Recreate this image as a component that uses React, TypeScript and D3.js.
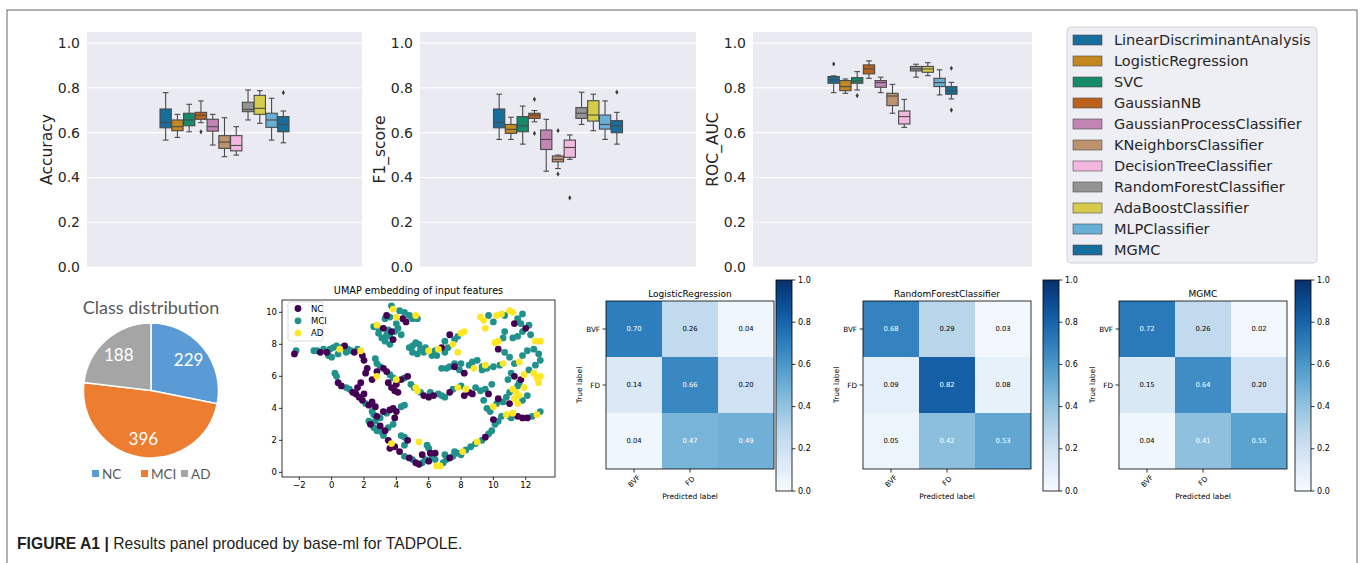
import React from 'react'
import * as d3 from 'd3'

// ---------- data ----------
const MODELS = [
  'LinearDiscriminantAnalysis',
  'LogisticRegression',
  'SVC',
  'GaussianNB',
  'GaussianProcessClassifier',
  'KNeighborsClassifier',
  'DecisionTreeClassifier',
  'RandomForestClassifier',
  'AdaBoostClassifier',
  'MLPClassifier',
  'MGMC',
]
const BASE_COLORS = ['#0173b2', '#de8f05', '#029e73', '#d55e00', '#cc78bc', '#ca9161', '#fbafe4', '#949494', '#ece133', '#56b4e9', '#0173b2']

// [whisker low, q1, median, q3, whisker high]
const ACC_STATS = [
  [0.567, 0.622, 0.646, 0.706, 0.779],
  [0.579, 0.609, 0.627, 0.657, 0.682],
  [0.604, 0.631, 0.657, 0.687, 0.727],
  [0.645, 0.66, 0.678, 0.691, 0.742],
  [0.545, 0.607, 0.627, 0.66, 0.682],
  [0.493, 0.53, 0.558, 0.587, 0.667],
  [0.5, 0.519, 0.543, 0.587, 0.627],
  [0.657, 0.694, 0.704, 0.736, 0.791],
  [0.642, 0.682, 0.709, 0.767, 0.788],
  [0.567, 0.624, 0.657, 0.687, 0.754],
  [0.555, 0.604, 0.637, 0.672, 0.697],
]
const ACC_OUTLIERS = [[3, 0.604], [10, 0.779]]

const F1_STATS = [
  [0.57, 0.622, 0.646, 0.706, 0.772],
  [0.57, 0.597, 0.615, 0.637, 0.669],
  [0.549, 0.604, 0.631, 0.672, 0.719],
  [0.649, 0.664, 0.679, 0.687, 0.699],
  [0.428, 0.525, 0.57, 0.612, 0.66],
  [0.44, 0.47, 0.481, 0.496, 0.5],
  [0.481, 0.49, 0.534, 0.567, 0.59],
  [0.637, 0.664, 0.687, 0.712, 0.781],
  [0.609, 0.652, 0.679, 0.743, 0.772],
  [0.57, 0.616, 0.637, 0.679, 0.742],
  [0.549, 0.6, 0.63, 0.654, 0.691],
]
const F1_OUTLIERS = [[3, 0.749], [3, 0.597], [5, 0.609], [5, 0.415], [6, 0.309], [10, 0.781]]

const ROC_STATS = [
  [0.779, 0.821, 0.836, 0.851, 0.854],
  [0.776, 0.788, 0.806, 0.833, 0.84],
  [0.791, 0.821, 0.831, 0.846, 0.873],
  [0.843, 0.863, 0.885, 0.903, 0.921],
  [0.779, 0.803, 0.824, 0.833, 0.848],
  [0.687, 0.721, 0.764, 0.776, 0.816],
  [0.624, 0.639, 0.672, 0.697, 0.749],
  [0.848, 0.876, 0.885, 0.896, 0.906],
  [0.855, 0.87, 0.885, 0.896, 0.913],
  [0.769, 0.806, 0.824, 0.843, 0.881],
  [0.751, 0.772, 0.788, 0.806, 0.825],
]
const ROC_OUTLIERS = [[0, 0.907], [2, 0.766], [10, 0.888], [10, 0.701]]

const METRIC_TICKS = [0, 0.2, 0.4, 0.6, 0.8, 1.0]

const CLASS_NAMES = ['NC', 'MCI', 'AD']
const CLASS_COUNTS = [229, 396, 188]
const PIE_COLORS = ['#5b9bd5', '#ed7d31', '#a5a5a5']

const UMAP_NC = [
  [3.4, 9.8], [4.4, 9.6], [4.6, 9.4], [3.2, 9.0], [3.7, 8.8], [3.8, 8.3],
  [-2.3, 7.4], [-0.7, 7.5], [-0.3, 7.5], [0.8, 7.9], [1.4, 7.5],
  [1.9, 7.3], [2.0, 7.0], [2.2, 6.5], [2.1, 6.2], [0.4, 5.6], [0.6, 5.4], [1.3, 5.0], [1.5, 4.9], [1.7, 4.7],
  [1.9, 4.5], [2.3, 4.2], [2.0, 4.9], [1.6, 5.3], [1.8, 5.6],
  [3.2, 6.5], [3.4, 6.3], [3.5, 5.6], [3.7, 5.3], [3.9, 5.1], [4.1, 5.0], [4.0, 5.5], [4.3, 5.8], [4.7, 6.0],
  [2.8, 6.3], [2.5, 5.8],
  [2.5, 4.4], [2.7, 4.1], [2.8, 3.5], [3.2, 3.8], [3.6, 3.9], [3.8, 4.0], [4.0, 3.8], [2.4, 3.0], [3.3, 2.6],
  [3.9, 3.4], [3.0, 2.9], [3.5, 2.0], [3.9, 1.6], [3.6, 1.5], [4.7, 2.0], [4.2, 1.3], [4.8, 0.9], [5.2, 0.6],
  [5.4, 0.5], [6.0, 0.7], [6.4, 1.2], [7.3, 0.9], [9.5, 2.2], [10.0, 3.3], [6.1, 1.2], [5.6, 1.1],
  [11.5, 3.5], [11.8, 3.4], [12.1, 3.4],
  [9.7, 4.9], [10.3, 4.6], [11.7, 5.8], [12.0, 9.0], [10.3, 7.7], [11.3, 6.0], [11.0, 4.3], [11.3, 9.3],
  [5.7, 4.8], [6.0, 4.7], [6.3, 4.8], [7.3, 5.0], [8.5, 5.0], [8.7, 4.9], [8.2, 4.8],
  [7.6, 6.6], [8.2, 6.2], [6.8, 7.8], [7.3, 8.6],
]
const UMAP_MCI = [
  [3.7, 10.4], [4.2, 10.1], [4.5, 10.0], [3.3, 9.6], [3.6, 9.7], [4.8, 9.8], [5.0, 9.6], [5.3, 9.6], [4.0, 9.3],
  [2.6, 9.1], [2.9, 9.0], [3.5, 8.9], [3.9, 8.8], [3.4, 8.6], [3.6, 8.5], [3.3, 8.2], [2.9, 8.7], [4.1, 9.0],
  [4.3, 8.6], [3.1, 8.4], [3.6, 8.0],
  [-2.2, 7.6], [-1.1, 7.6], [-0.9, 7.6], [-0.5, 7.7], [-0.1, 7.7], [0.1, 7.8], [0.3, 7.9], [0.6, 7.8],
  [1.0, 7.7], [1.2, 7.6], [1.6, 7.7], [0.0, 7.2], [-0.2, 7.3], [0.4, 7.4], [0.9, 7.5],
  [0.2, 6.2], [0.3, 6.0], [0.9, 5.3], [1.1, 5.2], [2.1, 4.3],
  [2.7, 7.1], [2.8, 6.8], [3.0, 6.6], [3.6, 6.1], [3.8, 5.9], [4.5, 5.9], [4.9, 5.5], [5.1, 5.3],
  [2.5, 3.8], [2.6, 3.6], [3.0, 3.4], [3.4, 3.7], [4.3, 4.1], [4.5, 4.2], [2.3, 3.2], [2.6, 2.8], [2.8, 2.6],
  [3.1, 2.5], [3.5, 2.8], [3.8, 3.0], [2.7, 3.2], [3.2, 2.3], [4.3, 2.3], [4.5, 2.2], [4.5, 1.7], [4.5, 1.0],
  [5.0, 0.8], [5.6, 0.6], [5.8, 0.8], [6.2, 0.9], [6.0, 1.5], [5.9, 1.7], [6.9, 0.6], [7.1, 0.8], [7.5, 1.0],
  [7.8, 1.2], [8.3, 1.4], [8.6, 1.6], [8.9, 1.8], [9.3, 2.0], [9.7, 2.4], [9.9, 2.6], [10.1, 3.0], [10.3, 3.2],
  [6.4, 0.8], [7.0, 1.1], [8.0, 1.1], [7.6, 1.3],
  [10.5, 3.5], [11.0, 3.5], [12.4, 3.5], [12.9, 3.8], [11.1, 3.4],
  [9.4, 4.5], [9.6, 4.0], [9.8, 3.8], [9.5, 5.2], [10.6, 4.4], [10.8, 4.7], [11.0, 5.0], [11.8, 4.5], [11.5, 5.4],
  [12.2, 6.4], [12.6, 6.7], [12.9, 7.0], [12.8, 7.4], [12.5, 7.7], [12.3, 8.6], [11.7, 9.3], [11.5, 9.6],
  [10.7, 9.8], [9.7, 9.8], [10.0, 9.4], [10.7, 8.8], [10.6, 8.4], [10.7, 7.5], [11.0, 7.2], [11.3, 6.8],
  [11.8, 7.3], [12.1, 7.6], [11.2, 8.4], [11.5, 8.5], [11.8, 8.8], [10.4, 6.7], [10.0, 6.6], [9.6, 6.5],
  [9.3, 6.4], [11.1, 6.2], [11.6, 5.6], [10.9, 5.8], [12.1, 4.8], [10.2, 4.3], [9.9, 5.5], [11.8, 9.9], [12.2, 9.2],
  [5.5, 5.0], [6.6, 4.9], [6.8, 4.8], [7.0, 4.7], [6.1, 5.0], [7.5, 5.2], [8.0, 5.4], [8.9, 5.3], [9.2, 5.1],
  [6.8, 6.5], [7.1, 6.5], [7.3, 6.6], [7.9, 6.4], [8.0, 6.8], [8.5, 6.7], [8.7, 6.9], [9.0, 7.0], [9.3, 6.6], [7.6, 6.8],
  [4.8, 7.8], [5.0, 7.9], [5.2, 8.1], [5.4, 8.0], [5.5, 7.7], [5.7, 7.5], [5.0, 7.5], [5.3, 7.4], [5.8, 7.8],
  [6.2, 7.3], [6.4, 7.6], [7.0, 7.5], [7.2, 7.8], [7.6, 8.3], [7.8, 8.5], [7.0, 8.2], [6.5, 7.3],
]
const UMAP_AD = [
  [3.8, 10.2], [4.0, 9.7], [5.2, 9.8], [2.8, 9.2],
  [0.5, 7.7], [1.8, 7.6],
  [2.8, 6.0], [4.0, 5.8], [5.3, 5.1],
  [3.7, 1.8], [5.4, 1.9], [6.5, 0.4], [6.7, 0.4], [8.1, 1.3], [9.0, 1.9],
  [10.8, 3.6], [11.2, 3.7], [12.7, 3.6],
  [10.0, 4.1], [11.2, 5.2], [11.4, 5.0], [11.6, 4.8], [11.3, 4.6], [11.9, 5.3], [11.9, 6.1], [12.5, 6.2],
  [12.7, 5.9], [12.8, 5.6], [12.9, 6.0], [12.6, 8.2], [12.9, 8.2], [11.2, 10.0], [11.0, 10.1], [10.5, 9.9],
  [9.4, 9.5], [9.2, 9.7], [9.5, 9.0], [10.2, 9.8], [10.3, 8.2], [10.1, 8.1], [11.6, 6.9], [10.6, 6.8], [11.5, 4.3],
  [5.2, 5.3], [8.3, 5.2], [7.8, 5.3], [8.8, 6.5], [9.5, 6.7],
  [6.0, 7.6], [6.6, 7.7], [7.5, 8.0], [8.0, 8.7], [8.2, 8.8], [7.8, 7.5],
]
const UMAP_X_TICKS = [-2, 0, 2, 4, 6, 8, 10, 12]
const UMAP_Y_TICKS = [0, 2, 4, 6, 8, 10]
const UMAP_COLORS = ['#440154', '#21918c', '#fde725']

const CM_LABELS = ['BVF', 'FD']
const CM_LR = [[0.7, 0.26, 0.04], [0.14, 0.66, 0.2], [0.04, 0.47, 0.49]]
const CM_RF = [[0.68, 0.29, 0.03], [0.09, 0.82, 0.08], [0.05, 0.42, 0.53]]
const CM_MGMC = [[0.72, 0.26, 0.02], [0.15, 0.64, 0.2], [0.04, 0.41, 0.55]]
const CB_TICKS = [0, 0.2, 0.4, 0.6, 0.8, 1.0]

// ---------- helpers ----------
const SNS_FONT = '"DejaVu Sans", sans-serif'
const TXT = '#262626'
const EDGE = '#4a4a4a'
const boxColors = BASE_COLORS.map((c) => {
  const h = d3.hsl(c)
  h.s *= 0.75
  return h.formatHex()
})

const BoxPanel = ({ x0, x1, label, stats, outliers }) => {
  const top = 32
  const bottom = 267
  const y = d3.scaleLinear().domain([0, 1.05]).range([bottom, top])
  const cx = (x0 + x1) / 2
  const band = d3.scaleBand().domain(d3.range(MODELS.length)).range([cx - 64.5, cx + 64.5]).paddingInner(0.04)
  const bw = band.bandwidth()
  return (
    <g>
      <rect x={x0} y={top} width={x1 - x0} height={bottom - top} fill="#eaeaf2" />
      {METRIC_TICKS.map((t) => (
        <g key={t}>
          <line x1={x0} x2={x1} y1={y(t)} y2={y(t)} stroke="#fff" strokeWidth={1.2} />
          <text x={x0 - 7} y={y(t)} textAnchor="end" dominantBaseline="central" fontSize={14} fill={TXT} fontFamily={SNS_FONT}>
            {t.toFixed(1)}
          </text>
        </g>
      ))}
      <text
        transform={`translate(${x0 - 40},${(top + bottom) / 2}) rotate(-90)`}
        textAnchor="middle"
        dominantBaseline="central"
        fontSize={15.5}
        fill={TXT}
        fontFamily={SNS_FONT}
      >
        {label}
      </text>
      {stats.map((s, i) => {
        const bx = band(i)
        const mx = bx + bw / 2
        const capW = bw / 4
        return (
          <g key={i} stroke={EDGE} strokeWidth={1.1}>
            <line x1={mx} x2={mx} y1={y(s[3])} y2={y(s[4])} />
            <line x1={mx} x2={mx} y1={y(s[0])} y2={y(s[1])} />
            <line x1={mx - capW} x2={mx + capW} y1={y(s[4])} y2={y(s[4])} />
            <line x1={mx - capW} x2={mx + capW} y1={y(s[0])} y2={y(s[0])} />
            <rect x={bx} y={y(s[3])} width={bw} height={y(s[1]) - y(s[3])} fill={boxColors[i]} />
            <line x1={bx} x2={bx + bw} y1={y(s[2])} y2={y(s[2])} />
          </g>
        )
      })}
      {outliers.map(([i, v], k) => (
        <path
          key={k}
          transform={`translate(${band(i) + bw / 2},${y(v)})`}
          d="M0,-2.6L1.6,0L0,2.6L-1.6,0Z"
          fill="#3d3d3d"
        />
      ))}
    </g>
  )
}

const ModelLegend = () => {
  const y = d3.scaleLinear().domain([0, MODELS.length - 1]).range([40, 250])
  return (
    <g>
      <rect x={1067} y={27} width={250} height={236} rx={4} fill="#eeeef5" stroke="#d2d2d8" />
      {MODELS.map((m, i) => (
        <g key={m}>
          <rect x={1073} y={y(i) - 5} width={29} height={10} fill={boxColors[i]} stroke={EDGE} strokeWidth={0.6} />
          <text x={1114} y={y(i)} dominantBaseline="central" fontSize={14.5} fill={TXT} fontFamily={SNS_FONT}>
            {m}
          </text>
        </g>
      ))}
    </g>
  )
}

const PieChart = () => {
  const cx = 151
  const cy = 390.5
  const r = 67.5
  const arcs = d3.pie().sort(null)(CLASS_COUNTS)
  const arc = d3.arc().innerRadius(0).outerRadius(r)
  const labelArc = d3.arc().innerRadius(r * 0.72).outerRadius(r * 0.72)
  const font = 'Lato, "Open Sans", sans-serif'
  const legendX = [92, 141, 181]
  return (
    <g>
      <text x={cx} y={307} textAnchor="middle" dominantBaseline="central" fontSize={18} fill="#595959" fontFamily={font}>
        Class distribution
      </text>
      <g transform={`translate(${cx},${cy})`}>
        {arcs.map((a, i) => (
          <path key={i} d={arc(a)} fill={PIE_COLORS[i]} stroke="#fff" strokeWidth={1.5} />
        ))}
        {arcs.map((a, i) => {
          const [lx, ly] = labelArc.centroid(a)
          return (
            <text key={i} x={lx} y={ly} textAnchor="middle" dominantBaseline="central" fontSize={17} fill="#fff" fontFamily={font}>
              {CLASS_COUNTS[i]}
            </text>
          )
        })}
      </g>
      {CLASS_NAMES.map((n, i) => (
        <g key={n}>
          <rect x={legendX[i]} y={470} width={7} height={7} fill={PIE_COLORS[i]} />
          <text x={legendX[i] + 10} y={474} dominantBaseline="central" fontSize={13.5} fill="#595959" fontFamily={font}>
            {n}
          </text>
        </g>
      ))}
    </g>
  )
}

const UmapPlot = () => {
  const left = 282
  const right = 555
  const top = 300
  const bottom = 477
  const x = d3.scaleLinear().domain([-3.07, 13.81]).range([left, right])
  const y = d3.scaleLinear().domain([-0.29, 10.77]).range([bottom, top])
  const groups = [
    { pts: UMAP_MCI, c: UMAP_COLORS[1] },
    { pts: UMAP_NC, c: UMAP_COLORS[0] },
    { pts: UMAP_AD, c: UMAP_COLORS[2] },
  ]
  return (
    <g fontFamily={SNS_FONT}>
      <text x={(left + right) / 2} y={290} textAnchor="middle" dominantBaseline="central" fontSize={9.7} fill="#000">
        UMAP embedding of input features
      </text>
      <defs>
        <clipPath id="umapclip">
          <rect x={left} y={top} width={right - left} height={bottom - top} />
        </clipPath>
      </defs>
      <g clipPath="url(#umapclip)">
        {groups.map((g, gi) =>
          g.pts.map(([px, py], i) => <circle key={`${gi}-${i}`} cx={x(px)} cy={y(py)} r={3.4} fill={g.c} />),
        )}
      </g>
      <rect x={left} y={top} width={right - left} height={bottom - top} fill="none" stroke="#000" strokeWidth={0.8} />
      {UMAP_X_TICKS.map((t) => (
        <g key={t}>
          <line x1={x(t)} x2={x(t)} y1={bottom} y2={bottom + 3} stroke="#000" strokeWidth={0.8} />
          <text x={x(t)} y={bottom + 5} textAnchor="middle" dominantBaseline="hanging" fontSize={8.5} fill="#000">
            {t < 0 ? `\u2212${-t}` : t}
          </text>
        </g>
      ))}
      {UMAP_Y_TICKS.map((t) => (
        <g key={t}>
          <line x1={left - 3} x2={left} y1={y(t)} y2={y(t)} stroke="#000" strokeWidth={0.8} />
          <text x={left - 5} y={y(t)} textAnchor="end" dominantBaseline="central" fontSize={8.5} fill="#000">
            {t}
          </text>
        </g>
      ))}
      <rect x={288} y={302} width={35} height={39} rx={2} fill="#fff" fillOpacity={0.8} stroke="#d0d0d0" strokeWidth={0.8} />
      {CLASS_NAMES.map((n, i) => (
        <g key={n}>
          <circle cx={298} cy={308.5 + i * 12.3} r={3.4} fill={UMAP_COLORS[i]} />
          <text x={311} y={308.5 + i * 12.3} dominantBaseline="central" fontSize={8.5} fill="#000">
            {n}
          </text>
        </g>
      ))}
    </g>
  )
}

const ConfMatrix = ({ id, left, cbLeft, title, values }) => {
  const top = 301
  const size = 168
  const band = d3.scaleBand().domain([0, 1, 2]).range([0, size])
  const color = d3.scaleSequential(d3.interpolateBlues).domain([0, 1])
  const cbTop = 280
  const cbBottom = 491
  const cbW = 16
  const cbY = d3.scaleLinear().domain([0, 1]).range([cbBottom, cbTop])
  const maxV = d3.max(values.flat())
  const thresh = maxV / 2
  const bw = band.bandwidth()
  return (
    <g fontFamily={SNS_FONT}>
      <text x={left + size / 2} y={294} textAnchor="middle" dominantBaseline="central" fontSize={9} fill="#000">
        {title}
      </text>
      {values.map((row, r) =>
        row.map((v, c) => (
          <g key={`${r}-${c}`}>
            <rect x={left + band(c)} y={top + band(r)} width={bw} height={bw} fill={color(v)} />
            <text
              x={left + band(c) + bw / 2}
              y={top + band(r) + bw / 2}
              textAnchor="middle"
              dominantBaseline="central"
              fontSize={6.8}
              fill={v > thresh ? '#fff' : '#000'}
            >
              {v.toFixed(2)}
            </text>
          </g>
        )),
      )}
      <rect x={left} y={top} width={size} height={size} fill="none" stroke="#000" strokeWidth={0.8} />
      {CM_LABELS.map((l, i) => {
        const c = band(i) + bw / 2
        return (
          <g key={l}>
            <line x1={left - 3.5} x2={left} y1={top + c} y2={top + c} stroke="#000" strokeWidth={0.8} />
            <text x={left - 6} y={top + c} textAnchor="end" dominantBaseline="central" fontSize={7.2} fill="#000">
              {l}
            </text>
            <line x1={left + c} x2={left + c} y1={top + size} y2={top + size + 3.5} stroke="#000" strokeWidth={0.8} />
            <text
              transform={`translate(${left + c},${top + size + 12}) rotate(-45)`}
              textAnchor="middle"
              dominantBaseline="central"
              fontSize={7.2}
              fill="#000"
            >
              {l}
            </text>
          </g>
        )
      })}
      <text
        transform={`translate(${left - 27},${top + size / 2}) rotate(-90)`}
        textAnchor="middle"
        dominantBaseline="central"
        fontSize={7.5}
        fill="#000"
      >
        True label
      </text>
      <text x={left + size / 2} y={496} textAnchor="middle" dominantBaseline="central" fontSize={7.5} fill="#000">
        Predicted label
      </text>
      <defs>
        <linearGradient id={`cb-${id}`} x1="0" y1="1" x2="0" y2="0">
          {d3.range(0, 1.0001, 0.1).map((t) => (
            <stop key={t} offset={t} stopColor={color(t)} />
          ))}
        </linearGradient>
      </defs>
      <rect x={cbLeft} y={cbTop} width={cbW} height={cbBottom - cbTop} fill={`url(#cb-${id})`} stroke="#000" strokeWidth={0.8} />
      {CB_TICKS.map((t) => (
        <g key={t}>
          <line x1={cbLeft + cbW} x2={cbLeft + cbW + 3.5} y1={cbY(t)} y2={cbY(t)} stroke="#000" strokeWidth={0.8} />
          <text x={cbLeft + cbW + 6} y={cbY(t)} dominantBaseline="central" fontSize={8} fill="#000">
            {t.toFixed(1)}
          </text>
        </g>
      ))}
    </g>
  )
}

export default function App() {
  return (
    <svg width={1360} height={563} style={{ position: 'absolute', left: 0, top: 0, background: '#fff' }}>
      <rect x={7} y={10} width={1350} height={600} fill="none" stroke="#666" strokeWidth={1} />
      <BoxPanel x0={87} x1={362} label="Accuracy" stats={ACC_STATS} outliers={ACC_OUTLIERS} />
      <BoxPanel x0={420} x1={696} label="F1_score" stats={F1_STATS} outliers={F1_OUTLIERS} />
      <BoxPanel x0={753} x1={1032} label="ROC_AUC" stats={ROC_STATS} outliers={ROC_OUTLIERS} />
      <ModelLegend />
      <PieChart />
      <UmapPlot />
      <ConfMatrix id="lr" left={606} cbLeft={776} title="LogisticRegression" values={CM_LR} />
      <ConfMatrix id="rf" left={863} cbLeft={1043} title="RandomForestClassifier" values={CM_RF} />
      <ConfMatrix id="mgmc" left={1119} cbLeft={1295} title="MGMC" values={CM_MGMC} />
      <text x={17} y={549} fontSize={15.7} fill="#231f20" fontFamily='"Liberation Sans", Arial, sans-serif'>
        <tspan fontWeight="bold">FIGURE A1 |</tspan>
        <tspan> Results panel produced by base-ml for TADPOLE.</tspan>
      </text>
    </svg>
  )
}
